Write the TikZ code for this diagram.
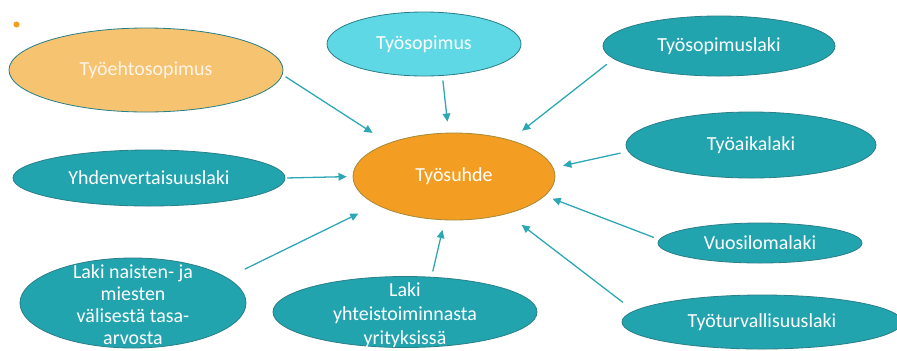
\documentclass[tikz,border=0pt]{standalone}
\usepackage{fontspec}
\setmainfont{Carlito}
\usetikzlibrary{shapes.geometric,arrows.meta}
\definecolor{lawteal}{HTML}{22A4AF}
\definecolor{rimteal}{HTML}{2A8088}
\definecolor{skycyan}{HTML}{5ED8E5}
\definecolor{paleorange}{HTML}{F6C370}
\definecolor{coreorange}{HTML}{F39D22}
\definecolor{rimgold}{HTML}{A58A3A}
\definecolor{arrowteal}{HTML}{2CA7B4}
\begin{document}
\begin{tikzpicture}[x=0.03cm,y=-0.03cm,line join=round,line cap=round,
	bubble/.style={ellipse,draw=rimteal,line width=0.7pt,fill=lawteal,text=white,inner sep=0pt,font=\fontsize{17}{20}\selectfont},
	txt/.style={text=white,align=center,inner sep=0pt},
	arr/.style={draw=arrowteal,line width=1.1pt,-{Triangle[length=7pt,width=6.5pt]}}]
	\useasboundingbox (0,0) rectangle (897,350);
	\node[bubble,fill=coreorange,draw=rimgold,minimum width=6.06cm,minimum height=2.61cm] (suhde) at (454,176.5) {Työsuhde};
	\node[bubble,fill=paleorange,text=orange!8,minimum width=8.22cm,minimum height=2.52cm] (tes) at (146,70) {Työehtosopimus};
	\node[bubble,fill=skycyan,minimum width=5.82cm,minimum height=1.92cm] (tsop) at (424,44) {Työsopimus};
	\node[bubble,minimum width=6.96cm,minimum height=1.8cm] (tsl) at (719,46) {Työsopimuslaki};
	\node[bubble,minimum width=7.5cm,minimum height=1.98cm] (tal) at (751,145) {Työaikalaki};
	\node[bubble,minimum width=8.16cm,minimum height=1.68cm] (yvl) at (149,178) {Yhdenvertaisuuslaki};
	\node[bubble,minimum width=6.78cm,minimum height=2.7cm,
		label={[txt,font=\fontsize{17}{18.6}\selectfont,yshift=-1.5pt]center:{Laki naisten- ja\\miesten\\välisestä tasa-\\arvosta}}] (lnm) at (133,303) {};
	\node[bubble,minimum width=7.92cm,minimum height=2.13cm,
		label={[txt,font=\fontsize{17}{20.4}\selectfont,yshift=-3pt]center:{Laki\\yhteistoiminnasta\\yrityksissä}}] (lyt) at (405,312) {};
	\node[bubble,minimum width=6.12cm,minimum height=1.2cm] (vlo) at (760,243) {Vuosilomalaki};
	\node[bubble,minimum width=8.4cm,minimum height=1.62cm] (ttl) at (762,322) {Työturvallisuuslaki};
	\foreach \s/\a/\t/\m/\n in {tes/-2/153/3.4/16,tsop/-60/97/4.3/9.4,tsl/187/33/7.7/12.8,tal/183/5/6.8/8.5,yvl/0/180/1.7/5,lnm/15/200/17/17,lyt/53/258/5/8.5,ttl/175/-35/12/15.4,vlo/178/-12/5/6.8}
		\draw[arr,shorten <=\m pt,shorten >=\n pt] (\s.\a) -- (suhde.\t);
	\coordinate (dot) at (16.5,24.5);
	\fill[coreorange] (dot) circle (2.6pt);
\end{tikzpicture}
\end{document}
